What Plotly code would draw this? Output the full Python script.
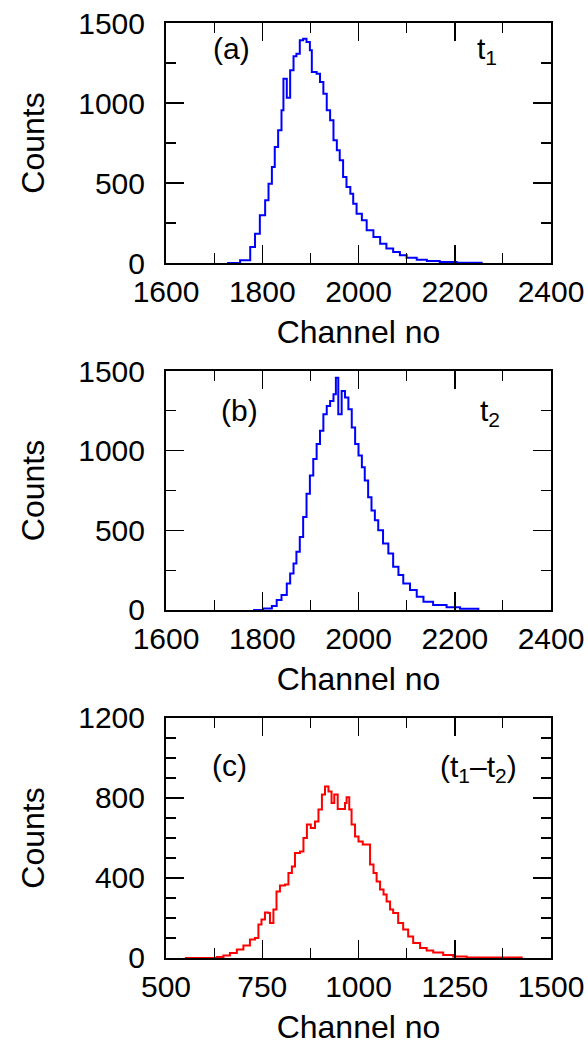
import plotly.graph_objects as go

# ---- data (bin start channel, counts) ----
t1_channel = [1727, 1754, 1775, 1785, 1795, 1806, 1813, 1820, 1826, 1833, 1840, 1844, 1851, 1858,
              1865, 1871, 1878, 1885, 1892, 1899, 1903, 1913, 1920, 1927, 1934, 1941, 1948, 1955,
              1961, 1968, 1975, 1983, 1989, 1996, 2007, 2017, 2031, 2045, 2058, 2072, 2086, 2100,
              2121, 2142, 2169, 2204, 2256]
t1_counts = [0, 17, 100, 183, 298, 392, 496, 600, 725, 829, 954, 1152, 1033, 1204,
             1292, 1308, 1392, 1402, 1381, 1329, 1194, 1183, 1131, 1058, 954, 892, 767, 704,
             642, 537, 475, 433, 371, 308, 267, 204, 162, 121, 90, 69, 48, 33,
             21, 12, 6, 2, 0]

t2_channel = [1781, 1802, 1820, 1830, 1840, 1851, 1858, 1865, 1871, 1878, 1885, 1892, 1899, 1906,
              1913, 1920, 1927, 1934, 1941, 1948, 1953, 1958, 1965, 1972, 1979, 1986, 1993, 2000,
              2007, 2013, 2020, 2027, 2034, 2041, 2051, 2062, 2072, 2083, 2093, 2107, 2121, 2135,
              2155, 2183, 2211, 2249]
t2_counts = [0, 10, 25, 62, 94, 167, 229, 292, 365, 458, 583, 729, 844, 948,
             1042, 1125, 1229, 1281, 1312, 1354, 1458, 1229, 1375, 1333, 1260, 1146, 1042, 969,
             896, 813, 708, 625, 563, 500, 417, 354, 271, 219, 167, 125, 83, 52,
             31, 17, 8, 0]

diff_channel = [549, 632, 649, 666, 684, 701, 718, 731, 740, 748, 757, 766, 770, 779, 787, 796,
                809, 818, 827, 835, 848, 857, 866, 876, 887, 896, 905, 913, 922, 930, 937, 946,
                956, 965, 969, 976, 982, 991, 1000, 1011, 1021, 1030, 1039, 1047, 1056, 1065,
                1073, 1082, 1090, 1103, 1116, 1129, 1142, 1160, 1177, 1194, 1220, 1246, 1281,
                1316, 1424]
diff_counts = [0, 5, 13, 25, 42, 62, 92, 100, 167, 192, 228, 225, 175, 242, 333, 362,
               367, 425, 458, 525, 533, 600, 667, 650, 683, 742, 817, 858, 833, 775, 817, 745,
               745, 775, 804, 742, 667, 608, 583, 567, 567, 467, 425, 383, 342, 317,
               283, 242, 225, 175, 142, 108, 75, 50, 38, 28, 15, 7, 3,
               2, 0]

FONT = "Liberation Sans, Arial, Helvetica, sans-serif"

fig = go.Figure()
fig.add_trace(go.Scatter(x=t1_channel, y=t1_counts, mode="lines", line=dict(color="#0000ff", width=2, shape="hv"),
                         xaxis="x", yaxis="y", showlegend=False, hoverinfo="skip"))
fig.add_trace(go.Scatter(x=t2_channel, y=t2_counts, mode="lines", line=dict(color="#0000ff", width=2, shape="hv"),
                         xaxis="x2", yaxis="y2", showlegend=False, hoverinfo="skip"))
fig.add_trace(go.Scatter(x=diff_channel, y=diff_counts, mode="lines", line=dict(color="#ff0000", width=2, shape="hv"),
                         xaxis="x3", yaxis="y3", showlegend=False, hoverinfo="skip"))

def xax(rng, dtick, minor, anchor):
    return dict(range=rng, tick0=rng[0], dtick=dtick, ticks="inside", ticklen=18, tickwidth=1.5, tickcolor="black",
                minor=dict(dtick=minor, ticks="inside", ticklen=10, tickwidth=1.2, tickcolor="black"),
                showline=True, linewidth=2, linecolor="black", mirror="allticks", showgrid=False, zeroline=False,
                tickfont=dict(size=30, color="black", family=FONT), ticklabelstandoff=1, automargin=False,
                title=dict(text="Channel no", font=dict(size=32, color="black", family=FONT), standoff=14),
                anchor=anchor, domain=[0, 1], fixedrange=True)

def yax(rng, dtick, minor, anchor, dom):
    return dict(range=rng, tick0=0, dtick=dtick, ticks="inside", ticklen=18, tickwidth=1.5, tickcolor="black",
                minor=dict(dtick=minor, ticks="inside", ticklen=10, tickwidth=1.2, tickcolor="black"),
                showline=True, linewidth=2, linecolor="black", mirror="allticks", showgrid=False, zeroline=False,
                tickfont=dict(size=30, color="black", family=FONT), ticklabelstandoff=13, automargin=False,
                title=dict(text="Counts", font=dict(size=32, color="black", family=FONT), standoff=24),
                anchor=anchor, domain=dom, fixedrange=True)

fig.update_layout(
    width=588, height=1046, autosize=False,
    margin=dict(l=166, r=37, t=23, b=88),
    paper_bgcolor="white", plot_bgcolor="white",
    hovermode=False,
    xaxis=xax([1600, 2400], 200, 100, "y"),
    yaxis=yax([0, 1500], 500, 250, "x", [0.7433, 1.0]),
    xaxis2=xax([1600, 2400], 200, 100, "y2"),
    yaxis2=yax([0, 1500], 500, 250, "x2", [0.3722, 0.6278]),
    xaxis3=xax([500, 1500], 250, 125, "y3"),
    yaxis3=yax([0, 1200], 400, 100, "x3", [0.0, 0.2567]),
)

def note(text, x, y, xr, yr):
    fig.add_annotation(text=text, x=x, y=y, xref=xr + " domain", yref=yr + " domain", showarrow=False,
                       xanchor="center", yanchor="middle", font=dict(size=30, color="black", family=FONT))

note("(a)", 0.171, 0.895, "x", "y")
note("t<sub>1</sub>", 0.835, 0.885, "x", "y")
note("(b)", 0.192, 0.833, "x2", "y2")
note("t<sub>2</sub>", 0.842, 0.825, "x2", "y2")
note("(c)", 0.166, 0.80, "x3", "y3")
note("(t<sub>1</sub>–t<sub>2</sub>)", 0.811, 0.79, "x3", "y3")

fig.write_html("out.html", config={"displayModeBar": False, "staticPlot": True},
               post_script="document.body.style.margin='0px';document.documentElement.style.overflow='hidden';document.body.style.overflow='hidden';")
